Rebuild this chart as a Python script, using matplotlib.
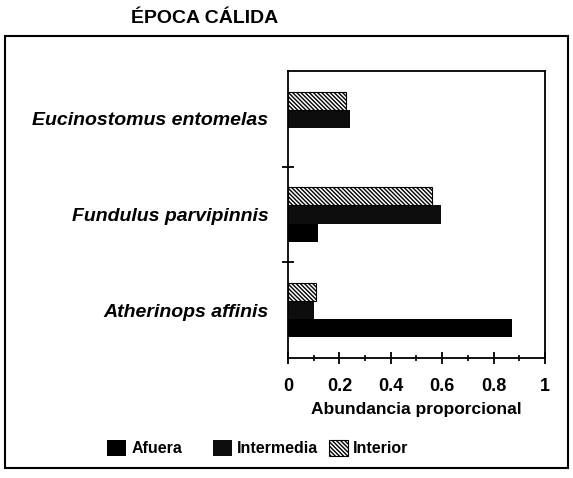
import matplotlib.pyplot as plt
import numpy as np
from matplotlib.patches import Rectangle, Patch
from matplotlib.ticker import MultipleLocator

plt.rcParams['font.family'] = ['Liberation Sans', 'DejaVu Sans']
plt.rcParams['hatch.linewidth'] = 1.0

species = ['Atherinops affinis', 'Fundulus parvipinnis', 'Eucinostomus entomelas']
afuera = [0.87, 0.115, 0.0]
intermedia = [0.10, 0.595, 0.24]
interior = [0.11, 0.56, 0.225]

fig = plt.figure(figsize=(5.73, 4.78), dpi=100)
ax = fig.add_axes([0.5026, 0.251, 0.4485, 0.6005])

y = np.arange(len(species))
h = 0.19
hatch = '\\\\\\\\\\\\\\\\'
ax.barh(y - h, afuera, height=h, color='black')
ax.barh(y, intermedia, height=h, color='#0d0d0d')
ax.barh(y + h, interior, height=h, color='white', edgecolor='black',
        hatch=hatch, linewidth=0.8)

ax.set_xlim(0, 1)
ax.set_ylim(-0.5, 2.5)
ax.xaxis.set_minor_locator(MultipleLocator(0.1))
ax.set_xticks([0, 0.2, 0.4, 0.6, 0.8, 1])
ax.set_xticklabels(['0', '0.2', '0.4', '0.6', '0.8', '1'], fontsize=13, fontweight='bold')
ax.tick_params(axis='x', which='major', direction='inout', length=9, width=1.3, pad=10)
ax.tick_params(axis='x', which='minor', direction='inout', length=5, width=1.2)

ax.set_yticks([0.5, 1.5])
ax.set_yticklabels([])
ax.set_yticks(y, minor=True)
ax.set_yticklabels(species, minor=True, fontsize=14, fontweight='bold', style='italic')
ax.tick_params(axis='y', which='major', direction='inout', length=8, width=1.3)
ax.tick_params(axis='y', which='minor', length=0, pad=14)

for s in ax.spines.values():
    s.set_linewidth(1.3)

ax.set_xlabel('Abundancia proporcional', fontsize=12.5, fontweight='bold', labelpad=5)

handles = [Patch(facecolor='black', label='Afuera'),
           Patch(facecolor='#0d0d0d', label='Intermedia'),
           Patch(facecolor='white', edgecolor='black', hatch=hatch, linewidth=0.8,
                 label='Interior')]
spots = [(0.187, 0.063), (0.372, 0.063), (0.574, 0.063)]
for hd, (lx, ly) in zip(handles, spots):
    fig.legend(handles=[hd], loc='center left', bbox_to_anchor=(lx, ly),
               frameon=False, prop={'weight': 'bold', 'size': 11.5},
               handlelength=1.2, handleheight=1.2, handletextpad=0.3,
               borderpad=0, borderaxespad=0)

fig.patches.append(Rectangle((0.009, 0.021), 0.982, 0.904, transform=fig.transFigure,
                             fill=False, edgecolor='black', linewidth=1.5))
fig.text(0.357, 0.962, 'ÉPOCA CÁLIDA', fontsize=14, fontweight='bold',
         ha='center', va='center')

fig.savefig('out.png', dpi=100)
